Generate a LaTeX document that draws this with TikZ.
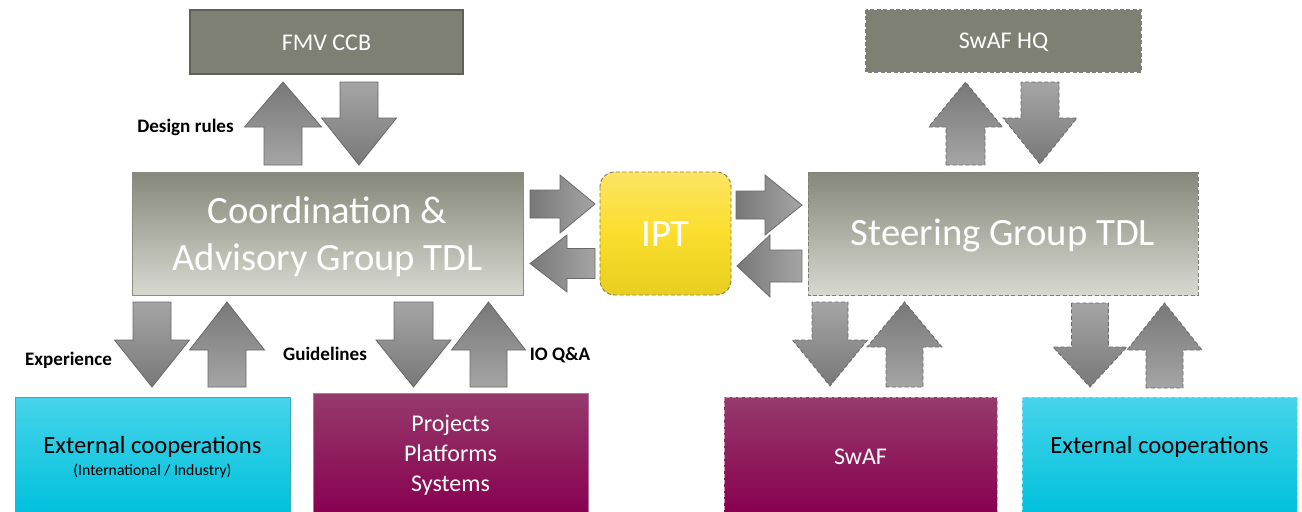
\documentclass[tikz,border=0pt]{standalone}
\usepackage{fontspec}
\setmainfont{Carlito}
\usetikzlibrary{shadings}
\definecolor{boxgray}{RGB}{127,128,116}
\definecolor{boxedge}{RGB}{95,96,86}
\definecolor{cgtop}{RGB}{134,136,122}
\definecolor{cgbot}{RGB}{215,216,208}
\definecolor{cgedge}{RGB}{140,140,132}
\definecolor{ipttop}{RGB}{253,228,100}
\definecolor{iptmid}{RGB}{251,222,45}
\definecolor{iptbot}{RGB}{232,206,32}
\definecolor{iptedge}{RGB}{130,125,90}
\definecolor{cyantop}{RGB}{70,212,234}
\definecolor{cyanbot}{RGB}{0,192,220}
\definecolor{purtop}{RGB}{150,58,108}
\definecolor{purbot}{RGB}{136,0,80}
\definecolor{arrlight}{RGB}{165,165,165}
\definecolor{arrdark}{RGB}{120,120,120}
\definecolor{arredge}{RGB}{105,105,105}
\newcommand{\vblk}[7]{\path[blk,#1] ({#2-#6},#5) -- ({#2-#6},#4) -- ({#2-#7},#4) -- (#2,#3) -- ({#2+#7},#4) -- ({#2+#6},#4) -- ({#2+#6},#5) -- cycle;}
\newcommand{\hblk}[7]{\path[blk,#1] (#5,{#2-#6}) -- (#4,{#2-#6}) -- (#4,{#2-#7}) -- (#3,#2) -- (#4,{#2+#7}) -- (#4,{#2+#6}) -- (#5,{#2+#6}) -- cycle;}
\begin{document}
\begin{tikzpicture}[x=0.75pt,y=-0.75pt,
  graybox/.style={fill=boxgray, draw=boxedge, line width=0.8pt},
  gradbox/.style={top color=cgtop, bottom color=cgbot, draw=cgedge, line width=0.7pt},
  dashedge/.style={dash pattern=on 3pt off 1.8pt},
  blk/.style={draw=arredge, line width=0.6pt, line join=miter},
  upfill/.style={top color=arrdark, bottom color=arrlight},
  downfill/.style={top color=arrlight, bottom color=arrdark},
  hfill/.style={left color=arrdark, right color=arrlight},
  bigtxt/.style={text=white, align=center, font=\fontsize{29}{35}\selectfont},
  midtxt/.style={text=white, align=center, font=\fontsize{18}{22.5}\selectfont},
  lbl/.style={text=black, font=\fontsize{14.3}{17}\selectfont\bfseries}
]
\useasboundingbox (0,0) rectangle (1302,511);
\fill[white] (0,0) rectangle (1302,511);

% top boxes
\path[graybox] (190,10) rectangle (463,74);
\node[midtxt] (fmv) at (326.5,43) {FMV CCB};
\path[graybox, draw=boxedge!80, dashedge] (866,10) rectangle (1141,72);
\node[midtxt] (hq) at (1003.5,42) {SwAF HQ};

% middle boxes
\path[gradbox] (132,172) rectangle (523,295);
\node[bigtxt] (cag) at (327.5,237) {Coordination \&\\Advisory Group TDL};
\path[top color=ipttop, bottom color=iptbot, middle color=iptmid, draw=iptedge, line width=0.7pt, dashedge, rounded corners=11pt] (600,172) rectangle (731,295);
\node[bigtxt] (ipt) at (665.5,234) {IPT};
\path[gradbox, dashedge, draw=cgedge!90!black] (808,172) rectangle (1198,295);
\node[bigtxt] (sg) at (1003,236) {Steering Group TDL};

% bottom boxes
\path[top color=cyantop, bottom color=cyanbot, draw=cyantop!80!black, line width=0.4pt] (15,397) rectangle (290,514);
\node[text=black, font=\fontsize{18.5}{22}\selectfont] (extl) at (152.5,447) {External cooperations};
\node[text=black, font=\fontsize{11.8}{14}\selectfont] (extlsub) at (152.5,471) {(International / Industry)};
\path[top color=purtop, bottom color=purbot, draw=purtop!70, line width=0.4pt] (313,393) rectangle (588,514);
\node[midtxt] (pps) at (450.5,455) {Projects\\Platforms\\Systems};
\path[top color=purtop, bottom color=purbot, draw=purtop!50!white, line width=0.4pt, dashedge] (724,397) rectangle (997,514);
\node[midtxt] (swaf) at (860.5,457) {SwAF};
\path[top color=cyantop, bottom color=cyanbot, draw=cyantop!60!white, line width=0.4pt, dashedge] (1022,397) rectangle (1297,514);
\node[text=black, font=\fontsize{18.5}{22}\selectfont] (extr) at (1159.5,447) {External cooperations};

% block arrows top
\vblk{upfill}{283}{82}{127}{165}{19}{38.5}
\vblk{downfill}{359}{165}{118}{82}{19}{37.5}
\vblk{upfill,dashedge}{965.5}{82}{127}{165}{19.5}{37}
\vblk{downfill,dashedge}{1040}{164}{118}{82}{19}{37}

% horizontal arrows
\hblk{hfill}{204}{595}{560}{530}{14}{29}
\hblk{hfill}{263.5}{530}{567}{595}{15}{28.5}
\hblk{hfill}{205}{802}{765}{736}{14}{30}
\hblk{hfill}{266}{737}{770}{802}{16}{31}

% bottom arrows
\vblk{downfill}{152}{387}{340}{302}{19}{37.5}
\vblk{upfill}{227}{302}{350}{387}{19}{37.5}
\vblk{downfill}{413.5}{387}{340}{302}{19.5}{37.5}
\vblk{upfill}{488.5}{302}{350}{387}{18.5}{37}
\vblk{downfill,dashedge}{830}{386}{340}{302}{18}{37.5}
\vblk{upfill,dashedge}{904.5}{302}{347}{387}{18.5}{37.5}
\vblk{downfill,dashedge}{1090}{387}{347}{303}{18.5}{37}
\vblk{upfill,dashedge}{1164.5}{303}{350}{388}{18.5}{37.5}

% labels
\node[lbl] (ldr) at (185.5,127) {Design rules};
\node[lbl] (lexp) at (68.5,360) {Experience};
\node[lbl] (lgui) at (325,354) {Guidelines};
\node[lbl] (lio) at (560,355) {IO Q\&A};
\end{tikzpicture}
\end{document}
